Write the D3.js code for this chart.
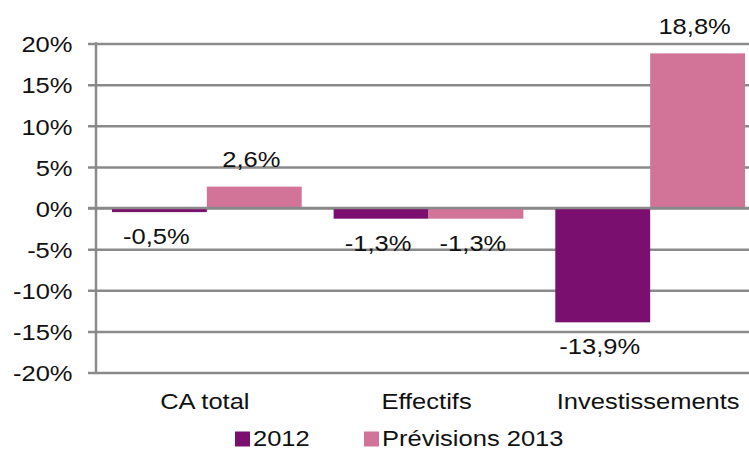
<!DOCTYPE html>
<html>
<head>
<meta charset="utf-8">
<script src="https://cdn.jsdelivr.net/npm/d3@7"></script>
<style>
  html, body { margin: 0; padding: 0; background: #fff; }
  svg { display: block; }
  text { font-family: "Liberation Sans", Arial, sans-serif; fill: #111; }
</style>
</head>
<body>
<svg id="chart" width="749" height="450"></svg>
<script>
// Variation (%) by indicator
const categories = ["CA total", "Effectifs", "Investissements"];
const seriesNames = ["2012", "Prévisions 2013"];
const values2012 = [-0.5, -1.3, -13.9];
const values2013 = [2.6, -1.3, 18.8];
const valueLabels2012 = ["-0,5%", "-1,3%", "-13,9%"];
const valueLabels2013 = ["2,6%", "-1,3%", "18,8%"];
const yTicks = [-20, -15, -10, -5, 0, 5, 10, 15, 20];
const yTickLabels = ["-20%", "-15%", "-10%", "-5%", "0%", "5%", "10%", "15%", "20%"];

const colors = ["#7b0f6f", "#d27498"];
const gridColor = "#8a8a8a";
const fontSize = 22;
const stretch = 1.16;

const svg = d3.select("#chart");
const W = 749;

const plotLeft = 96, plotRight = 761, plotTop = 43.5, plotBottom = 372.5;

const y = d3.scaleLinear().domain([-20, 20]).range([plotBottom, plotTop]);
const x0 = d3.scaleBand().domain(categories).range([plotLeft, plotRight])
  .paddingInner(0.144).paddingOuter(0.072);
const x1 = d3.scaleBand().domain(seriesNames).range([0, x0.bandwidth()]);

const rows = categories.map((c, i) => ({
  cat: c,
  items: [
    { s: seriesNames[0], v: values2012[i], label: valueLabels2012[i], color: colors[0] },
    { s: seriesNames[1], v: values2013[i], label: valueLabels2013[i], color: colors[1] }
  ]
}));

// Horizontal gridlines (with tick stubs left of the axis)
const yAxis = d3.axisLeft(y).tickValues(yTicks)
  .tickSize(-(W - plotLeft)).tickFormat((d, i) => yTickLabels[i]).tickPadding(0);
const gy = svg.append("g").attr("transform", `translate(${plotLeft},0)`).call(yAxis);
gy.select(".domain").remove();
gy.selectAll(".tick line")
  .attr("x1", -8)
  .attr("stroke", gridColor).attr("stroke-width", 2.5);
gy.selectAll(".tick text").remove();

// Y tick labels
svg.append("g").selectAll("text").data(yTicks).join("text")
  .attr("text-anchor", "end")
  .attr("dominant-baseline", "central")
  .attr("transform", d => `translate(72.5,${y(d) + 1}) scale(${stretch},1)`)
  .style("font-size", fontSize + "px")
  .text((d, i) => yTickLabels[i]);

// Bars
const groups = svg.append("g").selectAll("g").data(rows).join("g")
  .attr("transform", d => `translate(${x0(d.cat)},0)`);

groups.selectAll("rect").data(d => d.items).join("rect")
  .attr("x", d => x1(d.s))
  .attr("width", x1.bandwidth())
  .attr("y", d => y(Math.max(0, d.v)))
  .attr("height", d => Math.abs(y(d.v) - y(0)))
  .attr("fill", d => d.color);

// Zero line and vertical axis on top
svg.append("line")
  .attr("x1", plotLeft - 8).attr("x2", W)
  .attr("y1", y(0)).attr("y2", y(0))
  .attr("stroke", gridColor).attr("stroke-width", 2.5);
svg.append("line")
  .attr("x1", plotLeft).attr("x2", plotLeft)
  .attr("y1", plotTop - 1.2).attr("y2", plotBottom + 1.2)
  .attr("stroke", gridColor).attr("stroke-width", 2.5);

// Value labels
groups.selectAll("text").data(d => d.items).join("text")
  .attr("text-anchor", "middle")
  .attr("transform", d => {
    const cx = x1(d.s) + x1.bandwidth() / 2 - 3;
    const ty = d.v >= 0 ? y(d.v) - 19.5 : y(d.v) + 32;
    return `translate(${cx},${ty}) scale(${stretch},1)`;
  })
  .style("font-size", fontSize + "px")
  .text(d => d.label);

// Category labels
svg.append("g").selectAll("text").data(categories).join("text")
  .attr("text-anchor", "middle")
  .attr("transform", d => `translate(${x0(d) + x0.bandwidth() / 2 - 2},409) scale(${stretch},1)`)
  .style("font-size", fontSize + "px")
  .text(d => d);

// Legend
const legendItems = [
  { name: seriesNames[0], color: colors[0], x: 235 },
  { name: seriesNames[1], color: colors[1], x: 364 }
];
const lg = svg.append("g").selectAll("g").data(legendItems).join("g")
  .attr("transform", d => `translate(${d.x},0)`);
lg.append("rect").attr("x", 0).attr("y", 431.5).attr("width", 15).attr("height", 15)
  .attr("fill", d => d.color);
lg.append("text")
  .attr("transform", `translate(18,446) scale(${stretch},1)`)
  .style("font-size", fontSize + "px")
  .text(d => d.name);
</script>
</body>
</html>
